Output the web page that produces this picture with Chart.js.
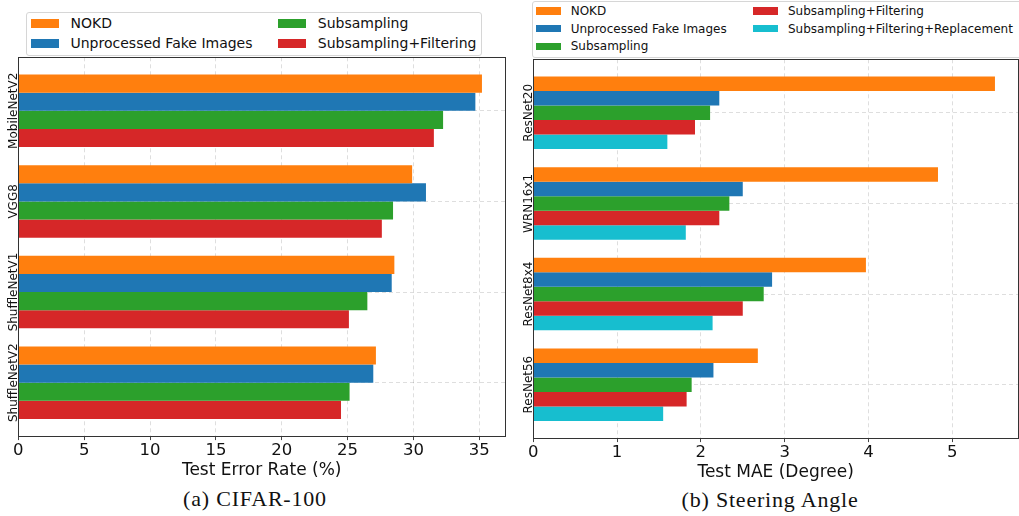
<!DOCTYPE html>
<html>
<head>
<meta charset="utf-8">
<script src="https://cdn.jsdelivr.net/npm/chart.js@4.4.0/dist/chart.umd.min.js"></script>
<style>
  body { margin:0; width:1019px; height:516px; overflow:hidden; background:#fff; position:relative; font-family:"DejaVu Sans", sans-serif; }
  .wrap { position:absolute; }
  .legend { position:absolute; border:1px solid #d6d6d6; border-radius:3px; background:#fff; box-sizing:border-box; }
  .sw { position:absolute; }
  .item { position:absolute; white-space:nowrap; color:#111; line-height:1; transform:translateY(-50%); }
  .cap { position:absolute; font-family:"Liberation Serif", serif; font-size:22px; letter-spacing:0.8px; color:#111; white-space:nowrap; transform:translate(-50%,-50%); }
</style>
</head>
<body>
<div class="wrap" style="left:0;top:50px;width:520px;height:431px"><canvas id="c-cifar"></canvas></div>
<div class="wrap" style="left:510px;top:52px;width:509px;height:431px"><canvas id="c-steer"></canvas></div>
<div class="cap" style="left:255px;top:499px">(a) CIFAR-100</div>
<div class="cap" style="left:770px;top:500px">(b) Steering Angle</div>
<script>
// (a) CIFAR-100 — test error rate (%)
const cifarModels = ['MobileNetV2', 'VGG8', 'ShuffleNetV1', 'ShuffleNetV2'];
const cifarSeries = ['NOKD', 'Unprocessed Fake Images', 'Subsampling', 'Subsampling+Filtering'];
const cifarNokd        = [35.2, 29.9, 28.55, 27.15];
const cifarUnprocessed = [34.7, 30.95, 28.35, 26.95];
const cifarSub         = [32.25, 28.45, 26.5, 25.15];
const cifarSubFilt     = [31.55, 27.6, 25.1, 24.5];
const cifarTicks = [0, 5, 10, 15, 20, 25, 30, 35];

// (b) Steering angle — test MAE (degree)
const steerModels = ['ResNet20', 'WRN16x1', 'ResNet8x4', 'ResNet56'];
const steerSeries = ['NOKD', 'Unprocessed Fake Images', 'Subsampling', 'Subsampling+Filtering', 'Subsampling+Filtering+Replacement'];
const steerNokd        = [5.51, 4.83, 3.97, 2.68];
const steerUnprocessed = [2.22, 2.50, 2.85, 2.15];
const steerSub         = [2.11, 2.34, 2.75, 1.89];
const steerSubFilt     = [1.93, 2.22, 2.50, 1.83];
const steerSubFiltRep  = [1.60, 1.82, 2.14, 1.55];
const steerTicks = [0, 1, 2, 3, 4, 5];

const palette = ['#ff7f0e', '#1f77b4', '#2ca02c', '#d62728', '#17becf'];

// marco completo + etiquetas rotadas del eje de categorías
const frame = {
  id: 'frame',
  afterDatasetsDraw(chart, args, opts) {
    const { ctx, chartArea: a, scales: { y } } = chart;
    ctx.save();
    ctx.strokeStyle = '#333'; ctx.lineWidth = 1;
    const l = Math.round(a.left) + 0.5, t = Math.round(a.top) + 0.5;
    ctx.strokeRect(l, t, Math.round(a.right) - Math.round(a.left), Math.round(a.bottom) - Math.round(a.top));
    ctx.fillStyle = '#111';
    ctx.font = '12px "DejaVu Sans"';
    ctx.textAlign = 'center'; ctx.textBaseline = 'alphabetic';
    opts.labels.forEach((lab, i) => {
      ctx.save();
      ctx.translate(a.left - 1, y.getPixelForValue(i));
      ctx.rotate(-Math.PI / 2);
      ctx.fillText(lab, 0, 0);
      ctx.restore();
    });
    ctx.restore();
  }
};

function barChart(id, models, series, values, ticks, xMax, title, pad) {
  const grid = { color: 'rgba(0,0,0,0.13)', lineWidth: 1 };
  return new Chart(document.getElementById(id), {
    type: 'bar',
    data: {
      datasets: series.map((name, k) => ({
        label: name,
        data: values[k].map((v, i) => ({ x: v, y: i })),
        backgroundColor: palette[k],
        borderWidth: 0,
        barPercentage: 1,
        categoryPercentage: 0.8
      }))
    },
    options: {
      indexAxis: 'y',
      responsive: true, maintainAspectRatio: false, animation: false,
      layout: { padding: pad },
      plugins: { legend: { display: false }, tooltip: { enabled: false }, frame: { labels: models } },
      scales: {
        x: {
          type: 'linear', min: 0, max: xMax,
          afterBuildTicks: s => { s.ticks = ticks.map(v => ({ value: v })); },
          ticks: { color: '#111', padding: 2, font: { family: 'DejaVu Sans', size: 16.5, lineHeight: 1 } },
          grid: { ...grid, drawTicks: true, tickLength: 4, tickColor: '#444' },
          border: { display: false, dash: [4, 3] },
          title: { display: true, text: title, color: '#111', padding: { top: 0, bottom: 0 }, font: { family: 'DejaVu Sans', size: 17 } }
        },
        y: {
          type: 'linear', reverse: true, offset: false, min: -0.59, max: models.length - 1 + 0.59,
          afterBuildTicks: s => { s.ticks = models.map((m, i) => ({ value: i })); },
          ticks: { display: false },
          grid: { ...grid, offset: false, drawTicks: false },
          border: { display: false, dash: [4, 3] }
        }
      }
    },
    plugins: [frame]
  });
}

function legend(names, o) {
  const box = document.createElement('div');
  box.className = 'legend';
  box.style.cssText = `left:${o.box[0]}px;top:${o.box[1]}px;width:${o.box[2]}px;height:${o.box[3]}px`;
  document.body.appendChild(box);
  names.forEach((n, i) => {
    const col = Math.floor(i / o.rows), row = i % o.rows;
    const sw = document.createElement('div');
    sw.className = 'sw';
    sw.style.cssText = `left:${o.colX[col]}px;top:${o.rowY[row] - o.sh / 2}px;width:${o.sw}px;height:${o.sh}px;background:${palette[i]}`;
    const t = document.createElement('div');
    t.className = 'item';
    t.textContent = n;
    t.style.left = (o.colX[col] + o.sw + o.gap) + 'px';
    t.style.top = o.rowY[row] + 'px';
    t.style.fontSize = o.fs + 'px';
    document.body.appendChild(sw);
    document.body.appendChild(t);
  });
}

barChart('c-cifar', cifarModels, cifarSeries,
  [cifarNokd, cifarUnprocessed, cifarSub, cifarSubFilt],
  cifarTicks, 36.95, 'Test Error Rate (%)', { left: 18.3, top: 7.3, right: 15, bottom: 0 });
barChart('c-steer', steerModels, steerSeries,
  [steerNokd, steerUnprocessed, steerSub, steerSubFilt, steerSubFiltRep],
  steerTicks, 5.785, 'Test MAE (Degree)', { left: 23.3, top: 7.3, right: 1, bottom: 0 });

legend(cifarSeries, { box: [26, 12, 456, 44], rows: 2, colX: [31, 278.3], rowY: [23.3, 43.3], sw: 28, sh: 9, gap: 11.5, fs: 14 });
legend(steerSeries, { box: [532, 1, 500, 57], rows: 3, colX: [536, 753.3], rowY: [11, 28.7, 46.3], sw: 24.7, sh: 7.5, gap: 10, fs: 12 });
</script>
</body>
</html>
